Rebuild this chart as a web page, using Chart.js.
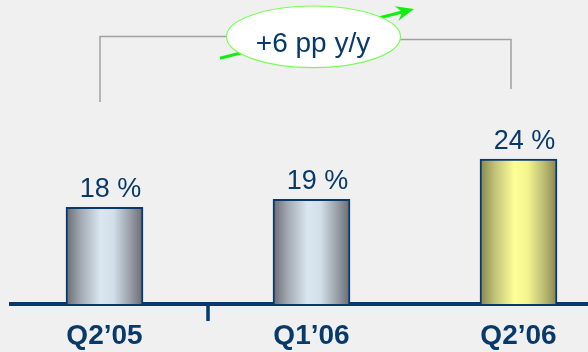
<!DOCTYPE html>
<html>
<head>
<meta charset="utf-8">
<script src="https://cdn.jsdelivr.net/npm/chart.js@4.4.1/dist/chart.umd.min.js"></script>
<style>
  html, body { margin: 0; padding: 0; background: #f0f0f0; overflow: hidden; }
  #wrap { width: 588px; height: 352px; position: relative; }
</style>
</head>
<body>
<div id="wrap"><canvas id="share_chart"></canvas></div>
<script>
const quarters = ["Q2’05", "Q1’06", "Q2’06"];
const share_values = [18, 19, 24];
const value_labels = ["18 %", "19 %", "24 %"];
const change_label = "+6 pp y/y";
const highlight_index = 2;

const navy = "#073a6b";
const font_family = "'Liberation Sans', Arial, sans-serif";
const bar_width = 77;

// cylinder-like shading across each bar
function bar_fill(context) {
  const chart = context.chart;
  if (!chart.chartArea) return "#c0c8d0";
  const cx = chart.scales.x.getPixelForValue(context.dataIndex);
  const half = bar_width / 2;
  const g = chart.ctx.createLinearGradient(cx - half, 0, cx + half, 0);
  if (context.dataIndex === highlight_index) {
    g.addColorStop(0, "#86864f");
    g.addColorStop(0.2, "#c4c47a");
    g.addColorStop(0.45, "#ffff99");
    g.addColorStop(0.62, "#f4f48f");
    g.addColorStop(0.85, "#b6b671");
    g.addColorStop(1, "#85854f");
  } else {
    g.addColorStop(0, "#686c72");
    g.addColorStop(0.2, "#a4acb5");
    g.addColorStop(0.45, "#dbe7f0");
    g.addColorStop(0.62, "#d2dee8");
    g.addColorStop(0.85, "#939aa2");
    g.addColorStop(1, "#676b70");
  }
  return g;
}

const value_labels_plugin = {
  id: "value_labels",
  afterDatasetsDraw(chart) {
    const ctx = chart.ctx;
    const meta = chart.getDatasetMeta(0);
    ctx.save();
    ctx.fillStyle = navy;
    ctx.font = "27px " + font_family;
    ctx.textAlign = "center";
    ctx.textBaseline = "alphabetic";
    meta.data.forEach((bar, i) => {
      ctx.fillText(value_labels[i], bar.x + 6, bar.y - 10);
    });
    ctx.restore();
  }
};

// bracket, growth bubble and arrow above the bars, plus the small axis tick
const annotation_plugin = {
  id: "annotation",
  afterDraw(chart) {
    const ctx = chart.ctx;
    const x = chart.scales.x;
    const axis_y = x.top;
    ctx.save();

    // tick between first and second quarter
    ctx.strokeStyle = navy;
    ctx.lineWidth = 3.5;
    ctx.beginPath();
    const tx = x.getPixelForValue(0.5);
    ctx.moveTo(tx, axis_y);
    ctx.lineTo(tx, axis_y + 17);
    ctx.stroke();

    // grey bracket
    ctx.strokeStyle = "#a0a0a0";
    ctx.lineWidth = 1.5;
    ctx.beginPath();
    ctx.moveTo(100, 102);
    ctx.lineTo(100, 36.5);
    ctx.lineTo(230, 36.5);
    ctx.moveTo(396, 39.5);
    ctx.lineTo(511, 39.5);
    ctx.lineTo(511, 89);
    ctx.stroke();

    // green arrow, passing behind the bubble
    const x0 = 220, y0 = 58.3, x1 = 414, y1 = 9;
    const ang = Math.atan2(y1 - y0, x1 - x0);
    ctx.strokeStyle = "#10f010";
    ctx.fillStyle = "#10f010";
    ctx.lineWidth = 3;
    ctx.beginPath();
    ctx.moveTo(x0, y0);
    ctx.lineTo(x1 - 12 * Math.cos(ang), y1 - 12 * Math.sin(ang));
    ctx.stroke();
    ctx.beginPath();
    ctx.moveTo(x1, y1);
    ctx.lineTo(x1 - 18 * Math.cos(ang) + 7.5 * Math.sin(ang), y1 - 18 * Math.sin(ang) - 7.5 * Math.cos(ang));
    ctx.lineTo(x1 - 12 * Math.cos(ang), y1 - 12 * Math.sin(ang));
    ctx.lineTo(x1 - 18 * Math.cos(ang) - 7.5 * Math.sin(ang), y1 - 18 * Math.sin(ang) + 7.5 * Math.cos(ang));
    ctx.closePath();
    ctx.fill();

    // bubble
    ctx.beginPath();
    ctx.ellipse(313.5, 36.8, 87, 30.8, 0, 0, Math.PI * 2);
    ctx.fillStyle = "#ffffff";
    ctx.fill();
    ctx.strokeStyle = "#77ff55";
    ctx.lineWidth = 1.2;
    ctx.stroke();

    ctx.fillStyle = navy;
    ctx.font = "28px " + font_family;
    ctx.textAlign = "center";
    ctx.textBaseline = "alphabetic";
    ctx.fillText(change_label, 313, 52);
    ctx.restore();
  }
};

const ctx = document.getElementById("share_chart").getContext("2d");
const chart = new Chart(ctx, {
  type: "bar",
  data: {
    datasets: [{
      data: share_values.map((v, i) => ({ x: i, y: v })),
      backgroundColor: bar_fill,
      borderColor: navy,
      borderWidth: 2,
      borderSkipped: false,
      barThickness: bar_width
    }]
  },
  options: {
    responsive: true,
    maintainAspectRatio: false,
    animation: false,
    layout: { padding: { top: 32, left: 11, right: 0, bottom: 0 } },
    plugins: { legend: { display: false }, tooltip: { enabled: false } },
    scales: {
      x: {
        type: "linear",
        offset: false,
        min: -0.4517,
        max: 2.3357,
        grid: { display: false, drawTicks: false },
        border: { display: true, color: navy, width: 4 },
        afterBuildTicks: (scale) => { scale.ticks = quarters.map((q, i) => ({ value: i })); },
        afterFit: (scale) => { scale.height = 48; },
        ticks: {
          callback: (v) => quarters[v],
          color: navy,
          font: { family: font_family, size: 28, weight: "bold" },
          padding: 15,
          maxRotation: 0,
          autoSkip: false
        }
      },
      y: { display: false, min: 6, max: 39.8 }
    }
  },
  plugins: [value_labels_plugin, annotation_plugin]
});
</script>
</body>
</html>
